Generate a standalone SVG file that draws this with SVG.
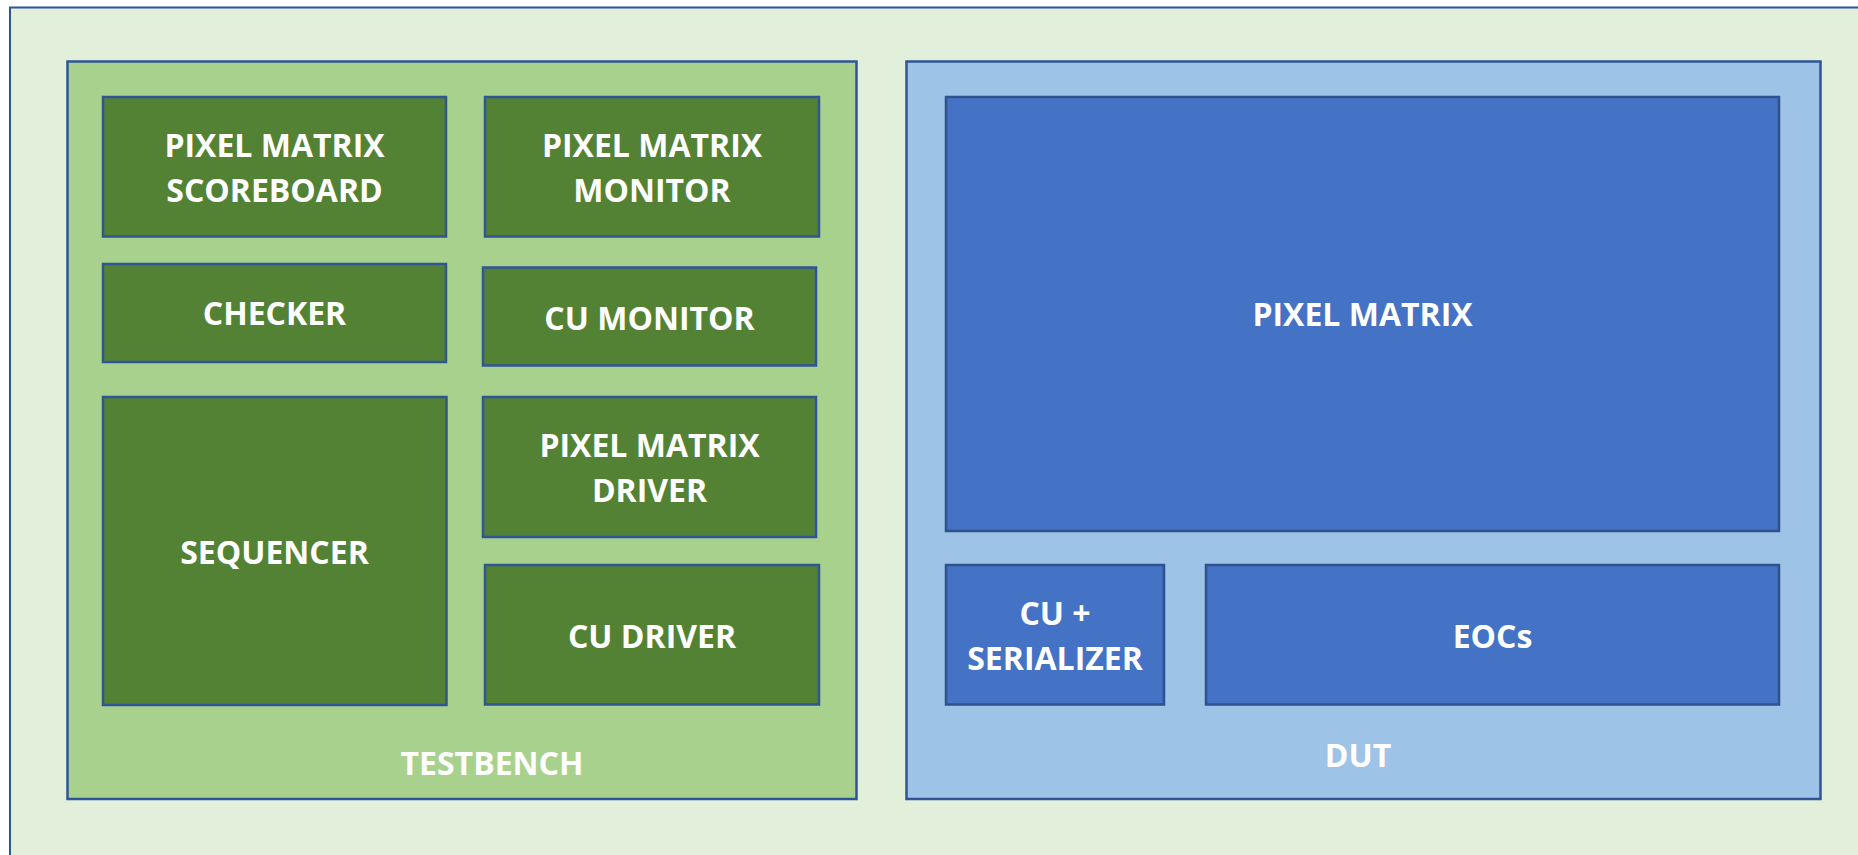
<svg xmlns="http://www.w3.org/2000/svg" width="1858" height="855" viewBox="0 0 1858 855">
  <style>
    .frame { stroke: #2F5597; stroke-width: 2.5; }
    .outer { fill: #E2EFDA; stroke-width: 2; }
    .tb { fill: #A9D18E; }
    .dut { fill: #9DC3E6; }
    .g { fill: #548235; }
    .b { fill: #4472C4; stroke: #2F528F; }
    text { font-family: "Open Sans", "Noto Sans", "Liberation Sans", sans-serif; font-weight: 700; font-size: 32px; fill: #FFFFFF; text-anchor: middle; }
  </style>
  <rect width="1858" height="855" fill="#FFFFFF"/>
  <g id="environment">
    <rect class="frame outer" x="10" y="7.5" width="1860" height="860"/>
  </g>
  <g id="testbench">
    <rect class="frame tb" x="67.5" y="61.5" width="789" height="737.5"/>
    <text x="492" y="775">TESTBENCH</text>
  </g>
  <g id="pm-scoreboard">
    <rect class="frame g" x="103" y="97" width="343" height="139.5"/>
    <text x="274.5" y="157">PIXEL MATRIX</text>
    <text x="274.5" y="202">SCOREBOARD</text>
  </g>
  <g id="pm-monitor">
    <rect class="frame g" x="485" y="97" width="334" height="139.5"/>
    <text x="652" y="157">PIXEL MATRIX</text>
    <text x="652" y="202">MONITOR</text>
  </g>
  <g id="checker">
    <rect class="frame g" x="103" y="264" width="343" height="98"/>
    <text x="274.5" y="325">CHECKER</text>
  </g>
  <g id="cu-monitor">
    <rect class="frame g" x="483" y="267.5" width="333" height="98"/>
    <text x="649.5" y="330">CU MONITOR</text>
  </g>
  <g id="sequencer">
    <rect class="frame g" x="103" y="397" width="343.5" height="308"/>
    <text x="274.5" y="564">SEQUENCER</text>
  </g>
  <g id="pm-driver">
    <rect class="frame g" x="483" y="397" width="333" height="140"/>
    <text x="649.5" y="457">PIXEL MATRIX</text>
    <text x="649.5" y="502">DRIVER</text>
  </g>
  <g id="cu-driver">
    <rect class="frame g" x="485" y="565" width="334" height="139.5"/>
    <text x="652" y="648">CU DRIVER</text>
  </g>
  <g id="dut">
    <rect class="frame dut" x="906.5" y="61.5" width="914" height="737.5"/>
    <text x="1358" y="767">DUT</text>
  </g>
  <g id="pixel-matrix">
    <rect class="frame b" x="946" y="97" width="833" height="434"/>
    <text x="1362.5" y="326">PIXEL MATRIX</text>
  </g>
  <g id="cu-serializer">
    <rect class="frame b" x="946" y="565" width="218" height="139.5"/>
    <text x="1055" y="625">CU +</text>
    <text x="1055" y="670">SERIALIZER</text>
  </g>
  <g id="eocs">
    <rect class="frame b" x="1206" y="565" width="573" height="139.5"/>
    <text x="1492.5" y="648">EOCs</text>
  </g>
  <g id="connectors"/>
</svg>
